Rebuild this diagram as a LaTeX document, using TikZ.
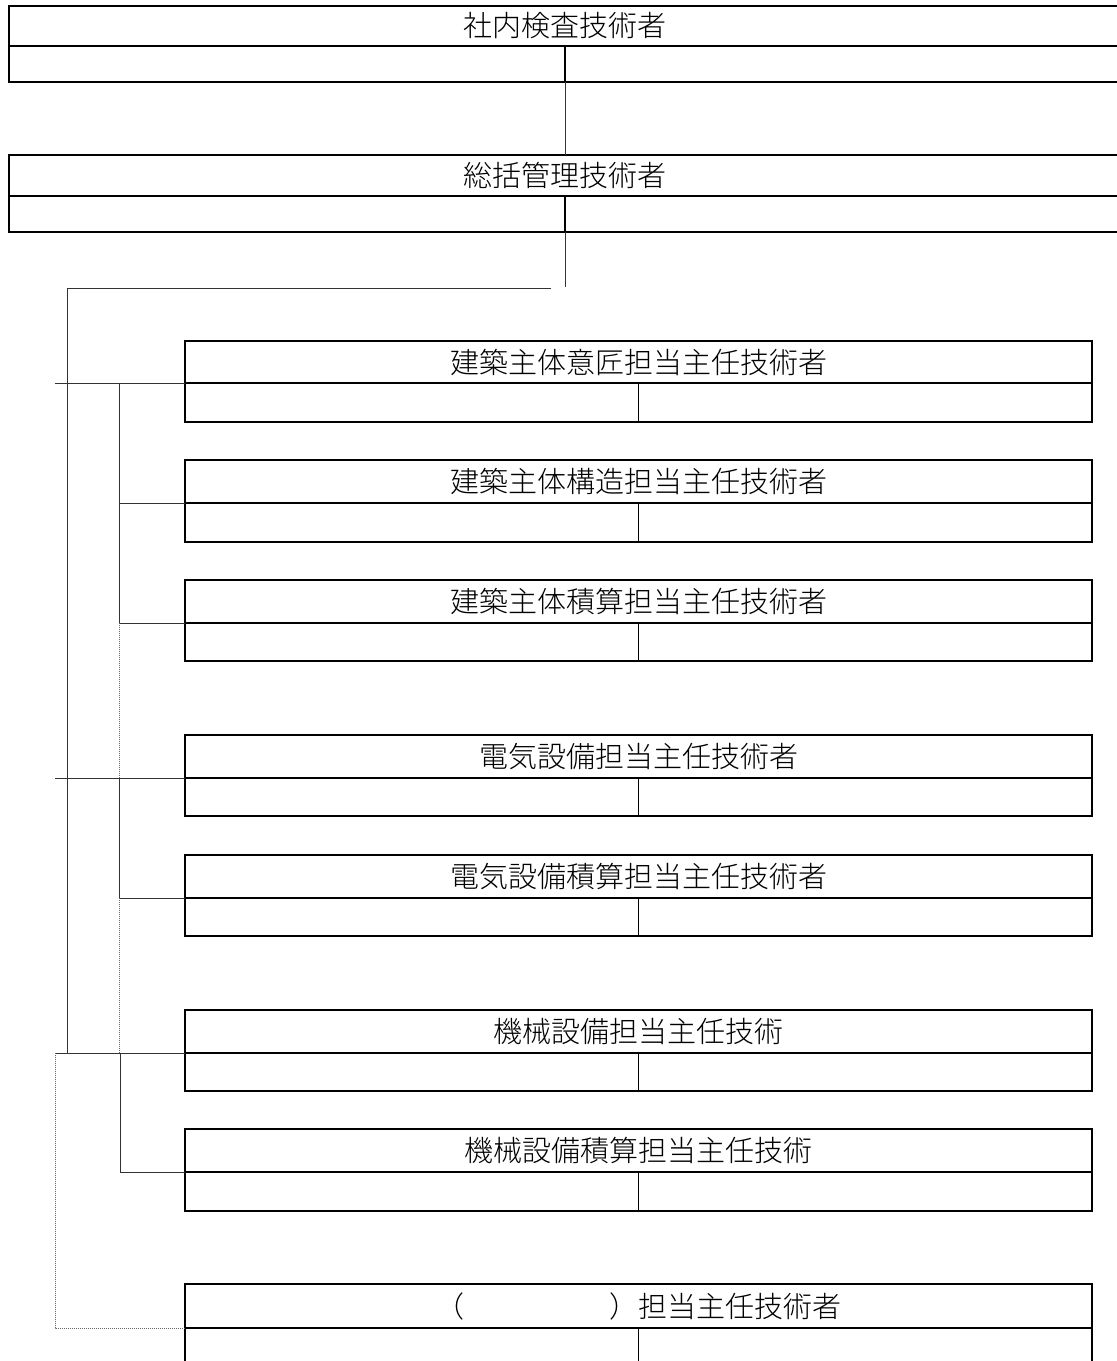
\documentclass[tikz,border=0pt]{standalone}
\usepackage{fontspec}
\newfontfamily\jp{Noto Sans CJK JP}[UprightFont=* Light]
\begin{document}
\begin{tikzpicture}[x=1pt,y=-1pt,
  hdr/.style={draw=black, line width=1.9pt, rectangle, inner sep=0pt, outer sep=0pt, anchor=north west,
    font=\jp\fontsize{29}{29}\selectfont},
  bdy/.style={draw=black, line width=1.9pt, rectangle, inner sep=0pt, outer sep=0pt, anchor=north west},
  div/.style={draw=black, line width=1.6pt},
  conn/.style={draw=black!80, line width=1pt},
  dconn/.style={draw=black!60, line width=1pt, dash pattern=on 1pt off 1pt}]
\useasboundingbox (0,0) rectangle (1117,1361);
% top boxes
\node[hdr, minimum width=1112pt, minimum height=40pt] (t1h) at (9,6) {社内検査技術者};
\node[bdy, minimum width=1112pt, minimum height=36pt] (t1b) at (9,46) {};
\draw[div] (t1b.north) -- (t1b.south);
\node[hdr, minimum width=1112pt, minimum height=41pt] (t2h) at (9,155) {総括管理技術者};
\node[bdy, minimum width=1112pt, minimum height=36pt] (t2b) at (9,196) {};
\draw[div] (t2b.north) -- (t2b.south);
% sub boxes
\foreach \n/\y/\hh/\bh/\t in {
  1/341/42/39/建築主体意匠担当主任技術者,
  2/460/43/39/建築主体構造担当主任技術者,
  3/580/43/38/建築主体積算担当主任技術者,
  4/735/43/38/電気設備担当主任技術者,
  5/855/43/38/電気設備積算担当主任技術者,
  6/1010/43/38/機械設備担当主任技術,
  7/1129/43/39/機械設備積算担当主任技術,
  8/1284/44/39/（　　　　　）担当主任技術者}{
  \node[hdr, minimum width=907pt, minimum height=\hh pt] (b\n h) at (185,\y) {\t};
  \node[bdy, minimum width=907pt, minimum height=\bh pt] (b\n b) at (185,\y+\hh) {};
  \draw[div] (b\n b.north) -- (b\n b.south);
}
% connector coordinates
\coordinate (cA) at (565,287);
\coordinate (cB) at (551,288);
\coordinate (cC) at (67,288);
\coordinate (cD) at (67,1053);
\coordinate (s1) at (55,383);
\coordinate (s4) at (55,778);
\coordinate (s6) at (55,1053);
\coordinate (v1) at (119,383);
\coordinate (v3) at (119,623);
\coordinate (v4) at (119,778);
\coordinate (v5) at (119,898);
\coordinate (v6) at (120,1053);
\coordinate (v6d) at (119,1053);
% connectors
\draw[conn] (t1b.south) -- (t2h.north);
\draw[conn] (t2b.south) -- (cA);
\draw[conn] (cB) -- (cC) -- (cD);
\draw[conn] (s1) -- (b1h.south west);
\draw[conn] (s4) -- (b4h.south west);
\draw[conn] (s6) -- (b6h.south west);
\draw[conn] (v1) |- (b2h.south west);
\draw[conn] (v1) -- (v3) -- (b3h.south west);
\draw[dconn] (v3) -- (v4);
\draw[conn] (v4) |- (b5h.south west);
\draw[dconn] (v5) -- (v6d);
\draw[conn] (v6) |- (b7h.south west);
\draw[dconn] (s6) |- (b8h.south west);
\end{tikzpicture}
\end{document}
